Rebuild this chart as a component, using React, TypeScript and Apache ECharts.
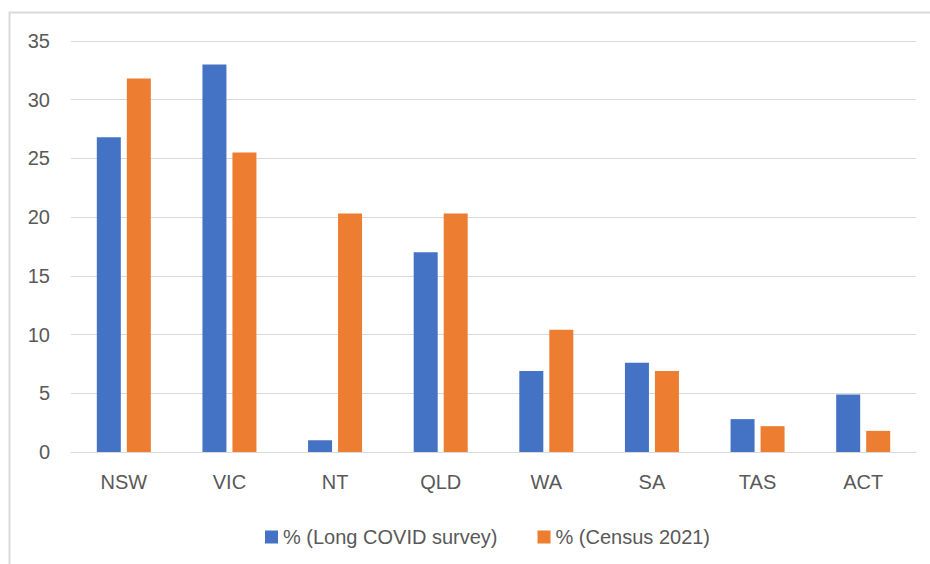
import React, { useEffect, useRef } from "react";
import * as echarts from "echarts";

const categories = ["NSW", "VIC", "NT", "QLD", "WA", "SA", "TAS", "ACT"];
const longCovid = [26.8, 33.0, 1.0, 17.0, 6.9, 7.6, 2.8, 4.9];
const census = [31.8, 25.5, 20.3, 20.3, 10.4, 6.9, 2.2, 1.8];
const seriesNames = ["% (Long COVID survey)", "% (Census 2021)"];

const FONT = "'Liberation Sans', Arial, sans-serif";
const TEXT = "#595959";

export default function App() {
  const ref = useRef<HTMLDivElement>(null);
  useEffect(() => {
    if (!ref.current) return;
    const chart = echarts.init(ref.current, undefined, { renderer: "svg" });
    chart.setOption({
      animation: false,
      backgroundColor: "#ffffff",
      textStyle: { fontFamily: FONT },
      graphic: [
        {
          type: "rect",
          shape: { x: 9.5, y: 12.5, width: 940, height: 580 },
          style: { fill: "none", stroke: "#d9d9d9", lineWidth: 2 },
          silent: true,
        },
      ],
      grid: { left: 71, right: 14, top: 41, bottom: 112, containLabel: false },
      legend: {
        left: 260,
        top: 522,
        itemWidth: 13,
        itemHeight: 13,
        itemGap: 40,
        icon: "rect",
        textStyle: { color: TEXT, fontSize: 20, fontFamily: FONT },
        data: seriesNames,
      },
      xAxis: {
        type: "category",
        data: categories,
        axisLine: { lineStyle: { color: "#d9d9d9", width: 1 } },
        axisTick: { show: false },
        axisLabel: { color: TEXT, fontSize: 20, margin: 20, fontFamily: FONT },
      },
      yAxis: {
        type: "value",
        min: 0,
        max: 35,
        interval: 5,
        axisLine: { show: false },
        axisTick: { show: false },
        axisLabel: { color: TEXT, fontSize: 20, margin: 21, fontFamily: FONT },
        splitLine: { lineStyle: { color: "#d9d9d9", width: 1 } },
      },
      series: [
        {
          name: seriesNames[0],
          type: "bar",
          data: longCovid,
          barWidth: 24,
          barGap: "25%",
          itemStyle: { color: "#4472C4" },
        },
        {
          name: seriesNames[1],
          type: "bar",
          data: census,
          barWidth: 24,
          barGap: "25%",
          itemStyle: { color: "#ED7D31" },
        },
      ],
    });
    return () => chart.dispose();
  }, []);
  return (
    <div
      ref={ref}
      style={{ position: "fixed", left: 0, top: 0, width: 930, height: 564 }}
    />
  );
}
